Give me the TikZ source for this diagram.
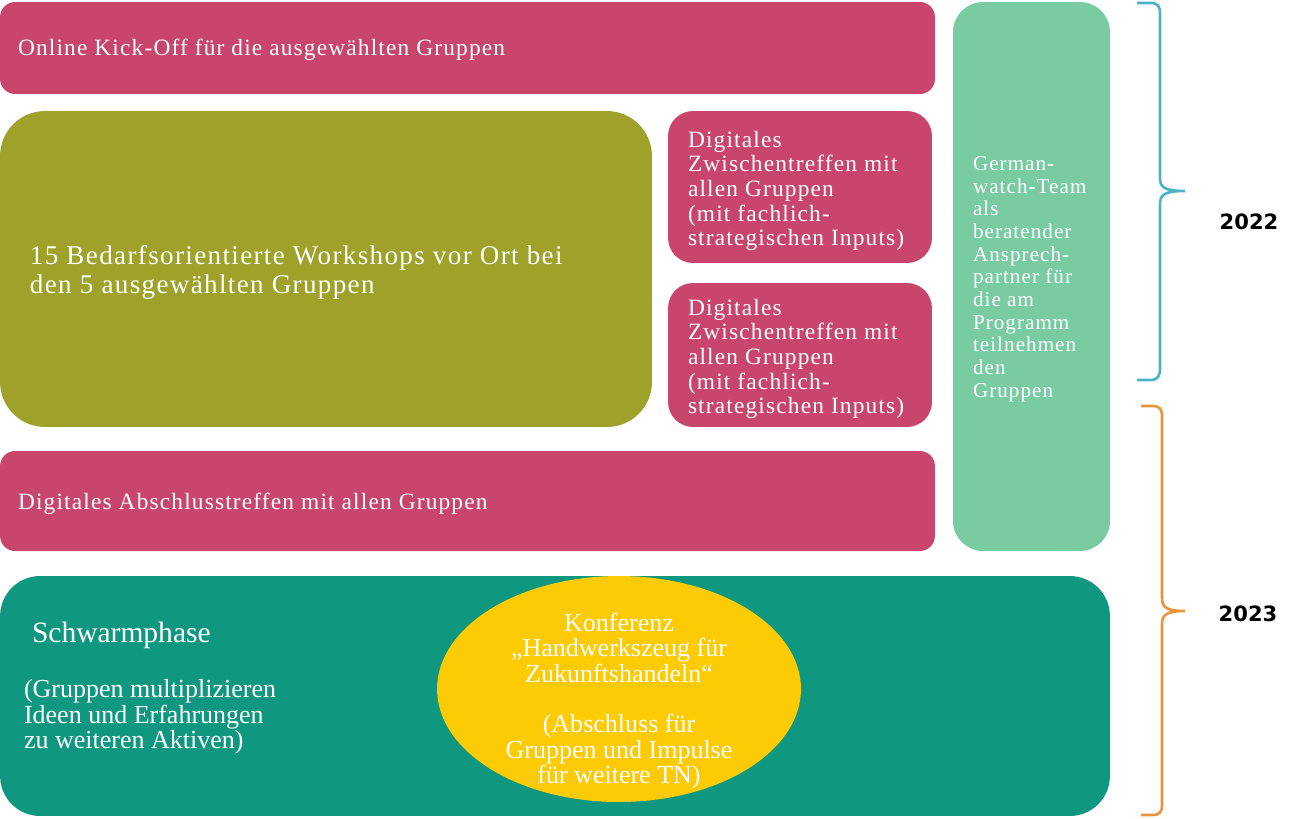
\documentclass[tikz,border=0pt]{standalone}
\usepackage{fontspec}
\setmainfont{Liberation Serif}
\newfontfamily\spacedfont[LetterSpace=5]{Liberation Serif}
\newfontfamily\yearfont{DejaVu Sans}
\usetikzlibrary{positioning,shapes.geometric}
\definecolor{phasePink}{HTML}{C8466B}
\definecolor{phaseOlive}{HTML}{9EA22A}
\definecolor{teamMint}{HTML}{79CBA2}
\definecolor{swarmTeal}{HTML}{10977F}
\definecolor{confYellow}{HTML}{FDCB04}
\definecolor{braceBlue}{HTML}{4CB3C6}
\definecolor{braceOrange}{HTML}{E8943A}

\begin{document}
\begin{tikzpicture}[
  x=0.02cm,y=-0.02cm,
  every node/.style={inner sep=0pt,outer sep=0pt},
  pinkbox/.style={fill=phasePink,rounded corners=0.3cm},
  zwbox/.style={fill=phasePink,rounded corners=0.5cm,minimum width=5.28cm},
  txt/.style={text=white,align=left,anchor=west,font=\spacedfont\fontsize{13.3}{14}\selectfont},
  bottxt/.style={text=white,font=\fontsize{14.8}{14.4}\selectfont},
  year/.style={font=\yearfont\bfseries\fontsize{12}{14}\selectfont},
  brace/.style={line width=1.5pt},
]
\useasboundingbox (0,0) rectangle (1300,818);

% year 2022 -- top row
\node[pinkbox,minimum width=18.7cm,minimum height=1.84cm] (kick) at (467.5,48) {};
\node[txt] (kicktxt) at (18,50) {Online Kick-Off für die ausgewählten Gruppen};

\node[fill=phaseOlive,rounded corners=0.9cm,minimum width=13.04cm,minimum height=6.32cm] (ws) at (326,269) {};
\node[txt,font=\spacedfont\fontsize{15.4}{16.5}\selectfont] (wstxt) at (30,272)
  {15 Bedarfsorientierte Workshops vor Ort bei\\den 5 ausgewählten Gruppen};

\node[zwbox,minimum height=3.04cm] (zwA) at (800,187) {};
\node[txt] (zwAtxt) at (688,191)
  {Digitales\\Zwischentreffen mit\\allen Gruppen\\(mit fachlich-\\strategischen Inputs)};
\node[zwbox,minimum height=2.88cm] (zwB) at (800,355) {};
\node[txt] (zwBtxt) at (688,359)
  {Digitales\\Zwischentreffen mit\\allen Gruppen\\(mit fachlich-\\strategischen Inputs)};

\node[pinkbox,minimum width=18.7cm,minimum height=2cm] (absch) at (467.5,501) {};
\node[txt] (abschtxt) at (18,504) {Digitales Abschlusstreffen mit allen Gruppen};

% team column -- right
\node[fill=teamMint,rounded corners=0.6cm,minimum width=3.14cm,minimum height=10.98cm] (team) at (1031.5,276.5) {};
\node[txt,font=\spacedfont\fontsize{12}{12.9}\selectfont] (teamtxt) at (973,279)
  {German-\\watch-Team\\als\\beratender\\Ansprech-\\partner für\\die am\\Programm\\teilnehmen\\den\\Gruppen};

% year 2023 -- bottom
\node[fill=swarmTeal,rounded corners=0.8cm,minimum width=22.2cm,minimum height=4.8cm] (swarm) at (555,696) {};
\node[bottxt,anchor=west,font=\fontsize{16.8}{18}\selectfont] (swarmtxt) at (32,635) {Schwarmphase};
\node[bottxt,anchor=west,align=left] (swarmsub) at (24,717)
  {(Gruppen multiplizieren\\Ideen und Erfahrungen\\zu weiteren Aktiven)};

\node[ellipse,fill=confYellow,minimum width=7.28cm,minimum height=4.52cm] (konf) at (619,689) {};
\node[bottxt,align=center] (konftxt) at (619,701)
  {Konferenz\\„Handwerkszeug für\\Zukunftshandeln“\\[\baselineskip](Abschluss für\\Gruppen und Impulse\\für weitere TN)};

% braces and years
\draw[brace,braceBlue] (1137,3) -- (1150,3) .. controls (1158,3) and (1160,6) .. (1160,14)
  -- (1160,178) .. controls (1160,187) and (1164,191) .. (1185,191)
  .. controls (1164,191) and (1160,195) .. (1160,204)
  -- (1160,368) .. controls (1160,376) and (1158,380) .. (1150,380) -- (1137,380);
\draw[brace,braceOrange] (1141,406) -- (1152,406) .. controls (1160,406) and (1162,409) .. (1162,417)
  -- (1162,598) .. controls (1162,607) and (1166,611) .. (1185,611)
  .. controls (1166,611) and (1162,615) .. (1162,624)
  -- (1162,804) .. controls (1162,812) and (1160,815) .. (1152,815) -- (1141,815);

\node[year] (y22) at (1249,222) {2022};
\node[year] (y23) at (1248,614) {2023};
\end{tikzpicture}
\end{document}
